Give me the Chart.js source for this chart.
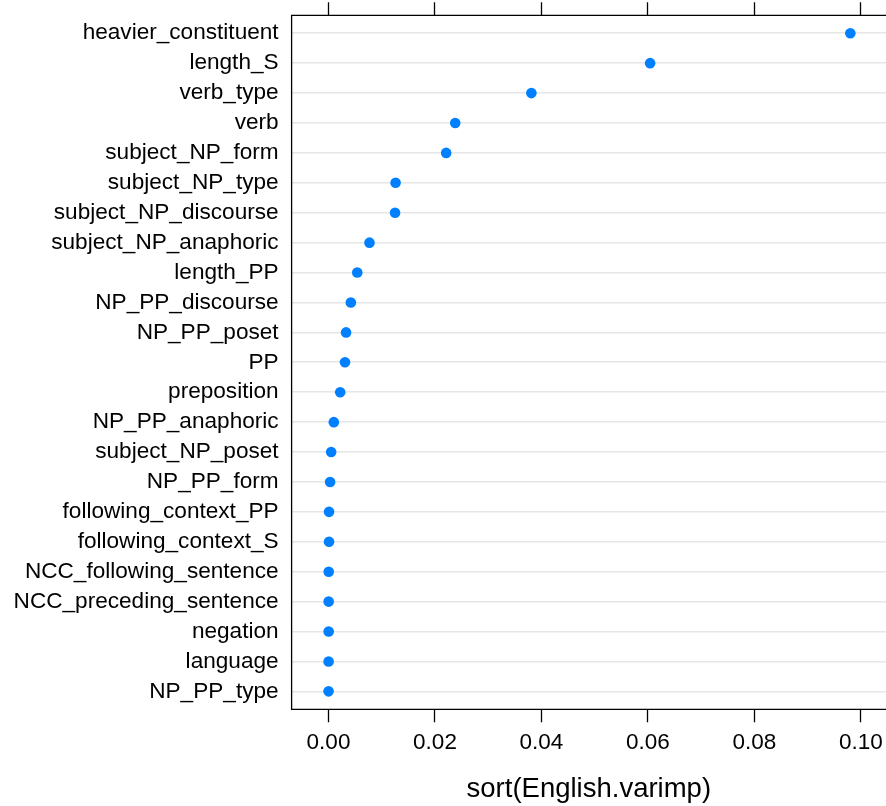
<!DOCTYPE html>
<html>
<head>
<meta charset="utf-8">
<script src="https://cdn.jsdelivr.net/npm/chart.js@4.4.1/dist/chart.umd.min.js"></script>
<style>
html,body{margin:0;padding:0;background:#fff;}
#wrap{width:886px;height:806px;position:relative;}
</style>
</head>
<body>
<div id="wrap"><canvas id="c" width="886" height="806"></canvas></div>
<script>
const categories = [
  "heavier_constituent","length_S","verb_type","verb","subject_NP_form",
  "subject_NP_type","subject_NP_discourse","subject_NP_anaphoric","length_PP",
  "NP_PP_discourse","NP_PP_poset","PP","preposition","NP_PP_anaphoric",
  "subject_NP_poset","NP_PP_form","following_context_PP","following_context_S",
  "NCC_following_sentence","NCC_preceding_sentence","negation","language","NP_PP_type"
];
const varimp = [
  0.0980,0.0604,0.0381,0.0238,0.0221,
  0.0126,0.0125,0.0077,0.0054,
  0.0042,0.0033,0.0031,0.0022,0.0010,
  0.0005,0.0003,0.0001,0.0001,
  0.00004,0.00003,0.00003,0.00002,0.00001
];
const xTicks = [0, 0.02, 0.04, 0.06, 0.08, 0.10];
const xTitle = "sort(English.varimp)";

const FONT = '"Liberation Sans", Arial, Helvetica, sans-serif';
const points = varimp.map((v, i) => ({x: v, y: i}));

function noPad(s) { s.paddingLeft = 0; s.paddingRight = 0; s.paddingTop = 0; s.paddingBottom = 0; }

const borderPlugin = {
  id: 'frame',
  afterDraw(chart) {
    const {ctx, chartArea: a} = chart;
    ctx.save();
    ctx.strokeStyle = '#000';
    ctx.lineWidth = 1.3;
    ctx.beginPath();
    ctx.moveTo(a.right + 5, a.top);
    ctx.lineTo(a.left, a.top);
    ctx.lineTo(a.left, a.bottom);
    ctx.lineTo(a.right + 5, a.bottom);
    ctx.stroke();
    ctx.restore();
  }
};

new Chart(document.getElementById('c'), {
  type: 'scatter',
  data: {
    datasets: [{
      data: points,
      backgroundColor: '#0080ff',
      borderWidth: 0,
      pointRadius: 5.3,
      pointHoverRadius: 5.3
    }]
  },
  options: {
    responsive: false,
    animation: false,
    devicePixelRatio: 1,
    layout: {padding: {left: 0, right: 0, top: 0, bottom: 0}, autoPadding: false},
    plugins: {legend: {display: false}, tooltip: {enabled: false}},
    scales: {
      x: {
        type: 'linear',
        position: 'bottom',
        min: -0.00693,
        max: 0.1047,
        afterBuildTicks(s) { s.ticks = xTicks.map(v => ({value: v})); },
        ticks: {
          color: '#000',
          font: {family: FONT, size: 22.5},
          padding: 7,
          maxRotation: 0,
          autoSkip: false,
          callback: v => v.toFixed(2)
        },
        grid: {drawOnChartArea: false, drawTicks: true, tickLength: 13, tickColor: '#000', tickWidth: 1.3},
        border: {display: false},
        title: {display: true, text: xTitle, color: '#000', font: {family: FONT, size: 27.5}, padding: {top: 10, bottom: 0}},
        afterFit(s) { s.height = 96.7; noPad(s); }
      },
      x2: {
        type: 'linear',
        position: 'top',
        min: -0.00693,
        max: 0.1047,
        afterBuildTicks(s) { s.ticks = xTicks.map(v => ({value: v})); },
        ticks: {display: false},
        grid: {drawOnChartArea: false, drawTicks: true, tickLength: 13, tickColor: '#000', tickWidth: 1.3},
        border: {display: false},
        afterFit(s) { s.height = 15.3; noPad(s); }
      },
      y: {
        type: 'linear',
        reverse: true,
        min: -0.6,
        max: categories.length - 1 + 0.6,
        afterBuildTicks(s) { s.ticks = categories.map((c, i) => ({value: i})); },
        ticks: {
          color: '#000',
          font: {family: FONT, size: 22.6},
          padding: 13,
          autoSkip: false,
          callback: (v) => categories[v]
        },
        grid: {color: '#e6e6e6', lineWidth: 1.6, drawTicks: false},
        border: {display: false},
        afterFit(s) { s.width = 291.6; noPad(s); }
      }
    }
  },
  plugins: [borderPlugin]
});
</script>
</body>
</html>
